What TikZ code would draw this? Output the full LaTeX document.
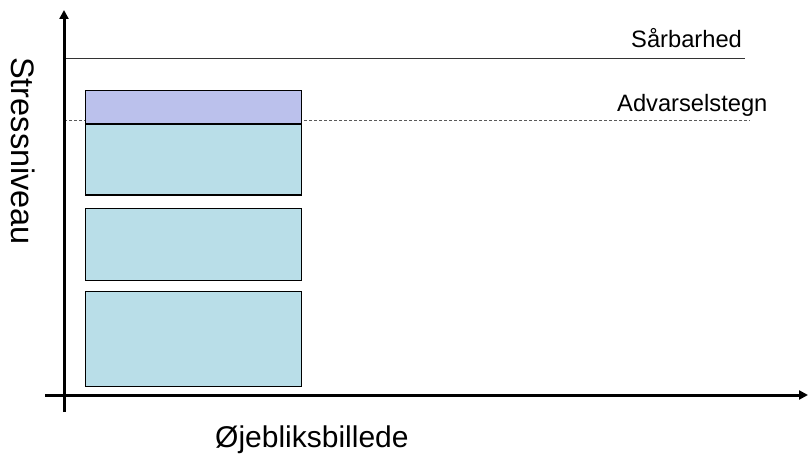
\documentclass[tikz,border=0pt]{standalone}
\usepackage{fontspec}
\setmainfont{Liberation Sans}
\usetikzlibrary{arrows.meta}
\definecolor{warnfill}{RGB}{187,193,236}
\definecolor{boxfill}{RGB}{185,222,232}
\begin{document}
\begin{tikzpicture}[x=1pt,y=-1pt,
  axis/.style={line width=3pt,-{Triangle[length=9pt,width=9pt]}},
  stressbox/.style={draw=black,line width=1.1pt,fill=boxfill},
  warnbox/.style={draw=black,line width=1.1pt,fill=warnfill},
  lbl/.style={inner sep=0pt,font=\fontsize{23.7}{28}\selectfont}]
\useasboundingbox (0,0) rectangle (808,457);
% reference lines
\coordinate (s0) at (64,59); \coordinate (s1) at (745,59);
\draw[line width=1pt,black!80] (s0) -- (s1);
\coordinate (w0) at (64,120); \coordinate (w1) at (750,120);
\draw[line width=0.9pt,black!65,dash pattern=on 3pt off 2pt] (w0) -- (w1);
% boxes
\node[warnbox,minimum width=216pt,minimum height=34pt,inner sep=0pt,anchor=north west] (b0) at (85,90) {};
\node[stressbox,minimum width=216pt,minimum height=71pt,inner sep=0pt,anchor=north west] (b1) at (85,123.5) {};
\node[stressbox,minimum width=216pt,minimum height=72pt,inner sep=0pt,anchor=north west] (b2) at (85,208) {};
\node[stressbox,minimum width=216pt,minimum height=95pt,inner sep=0pt,anchor=north west] (b3) at (85,291) {};
% axes
\coordinate (yb) at (64,412); \coordinate (yt) at (64,10);
\coordinate (xl) at (45,395); \coordinate (xr) at (808,395);
\draw[axis] (yb) -- (yt);
\draw[axis] (xl) -- (xr);
% labels
\node[lbl,anchor=base west] (sar) at (631,48) {Sårbarhed};
\node[lbl,anchor=base west] (adv) at (617,112) {Advarselstegn};
\node[inner sep=0pt,font=\fontsize{30}{34}\selectfont,anchor=base west] (oje) at (215,447) {Øjebliksbillede};
\node[inner sep=0pt,font=\fontsize{32.5}{36}\selectfont,rotate=-90,anchor=base west] (str) at (11,57) {Stressniveau};
\end{tikzpicture}
\end{document}
